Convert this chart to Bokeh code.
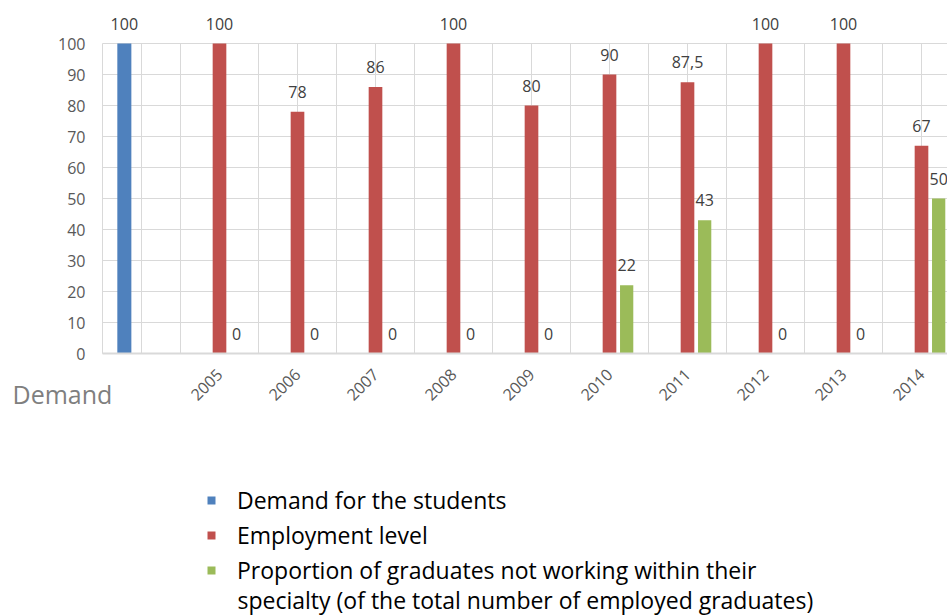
import math
from bokeh.plotting import figure
from bokeh.models import (ColumnDataSource, Range1d, FixedTicker, LabelSet, Label,
                          Legend, LegendItem, Grid)
from bokeh.core.properties import value
from bokeh.embed import file_html
from bokeh.resources import INLINE

# ---------------- data ----------------
years = ["2005", "2006", "2007", "2008", "2009", "2010", "2011", "2012", "2013", "2014"]
employment = [100, 78, 86, 100, 80, 90, 87.5, 100, 100, 67]
not_in_specialty = [0, 0, 0, 0, 0, 22, 43, 0, 0, 50]
demand = [100]
y_ticks = [0, 10, 20, 30, 40, 50, 60, 70, 80, 90, 100]
legend_labels = ["Demand for the students", "Employment level",
                 "Proportion of graduates not working within their",
                 "specialty (of the total number of employed graduates)"]

# ---------------- layout helpers ----------------
FONT = "Open Sans"
BLUE, RED, GREEN = "#4f81bd", "#c0504d", "#9bbb59"
first_slot, slot_step, green_shift, demand_pos = 3, 2, 0.44, 0.56
red_x = [first_slot + slot_step * i for i in range(len(years))]
green_x = [x + green_shift for x in red_x]


def fmt(v):
    return f"{v:g}".replace(".", ",")


src_blue = ColumnDataSource(dict(x=[demand_pos], top=demand, txt=[fmt(v) for v in demand]))
src_red = ColumnDataSource(dict(x=red_x, top=employment, txt=[fmt(v) for v in employment]))
src_green = ColumnDataSource(dict(x=green_x, top=not_in_specialty, txt=[fmt(v) for v in not_in_specialty]))

W, H = 947, 616
x0_px, y0_px = 102, 353          # pixel position of the data origin
px_x, px_y = 39.0, 3.1           # pixels per data unit
x_start, x_end = -x0_px / px_x, (W - x0_px) / px_x
y_start, y_end = -(H - y0_px) / px_y, y0_px / px_y

p = figure(width=W, height=H, x_range=Range1d(x_start, x_end), y_range=Range1d(y_start, y_end),
           min_border=0, output_backend="svg", toolbar_location=None)
p.outline_line_color = None
p.background_fill_color = "white"
p.border_fill_color = "white"

# grids
p.xgrid.ticker = FixedTicker(ticks=list(range(0, int(x_end) + 1)))
p.ygrid.ticker = FixedTicker(ticks=y_ticks)
for g in (p.xgrid, p.ygrid):
    g.grid_line_color = "#d9d9d9"
    g.grid_line_width = 1
if "cross_bounds" in Grid.properties():
    p.xgrid.cross_bounds = (0, y_ticks[-1])
    p.ygrid.cross_bounds = (0, x_end)
else:
    p.xgrid.visible = False
    p.ygrid.visible = False
    gx = list(range(0, int(x_end) + 1))
    p.segment(x0=gx, y0=[0] * len(gx), x1=gx, y1=[y_ticks[-1]] * len(gx), line_color="#d9d9d9", line_width=1)
    p.segment(x0=[0] * len(y_ticks), y0=y_ticks, x1=[x_end] * len(y_ticks), y1=y_ticks,
              line_color="#d9d9d9", line_width=1)

# y axis (drawn at x = 0 inside the frame)
p.yaxis.fixed_location = 0
p.yaxis.ticker = FixedTicker(ticks=y_ticks)
p.yaxis.bounds = (0, y_ticks[-1])
p.yaxis.axis_line_color = None
p.yaxis.major_tick_line_color = None
p.yaxis.minor_tick_line_color = None
p.yaxis.major_tick_out = 0
p.yaxis.major_label_standoff = 17
p.yaxis.major_label_text_font = FONT
p.yaxis.major_label_text_font_size = "16px"
p.yaxis.major_label_text_color = "#595959"

# x axis (drawn at y = 0 inside the frame)
p.xaxis.fixed_location = 0
p.xaxis.bounds = (0, x_end)
p.xaxis.ticker = FixedTicker(ticks=red_x)
p.xaxis.major_label_overrides = {x: y for x, y in zip(red_x, years)}
p.xaxis.major_label_orientation = math.pi / 4
p.xaxis.axis_line_color = "#d9d9d9"
p.xaxis.axis_line_width = 2
p.xaxis.major_tick_line_color = None
p.xaxis.minor_tick_line_color = None
p.xaxis.major_tick_out = 0
p.xaxis.major_label_standoff = 18
p.xaxis.major_label_text_font = FONT
p.xaxis.major_label_text_font_size = "16px"
p.xaxis.major_label_text_color = "#595959"

# bars
rb = p.vbar(x="x", top="top", bottom=0, width=0.36, source=src_blue, fill_color=BLUE, line_color=None)
rr = p.vbar(x="x", top="top", bottom=0, width=0.35, source=src_red, fill_color=RED, line_color=None)
rg = p.vbar(x="x", top="top", bottom=0, width=0.34, source=src_green, fill_color=GREEN, line_color=None)

# data labels
for s in (src_blue, src_red, src_green):
    p.add_layout(LabelSet(x="x", y="top", text="txt", source=s, y_offset=20,
                          text_align="center", text_baseline="middle",
                          text_font=value(FONT), text_font_size=value("16px"), text_color="#404040"))

# "Demand" category caption
p.add_layout(Label(x=12, y=223, x_units="screen", y_units="screen", text="Demand",
                   text_font=FONT, text_font_size="25px", text_color="#7f7f7f",
                   text_baseline="alphabetic", text_align="left"))

# legend
legend = Legend(items=[LegendItem(label=legend_labels[0], renderers=[rb]),
                       LegendItem(label=legend_labels[1], renderers=[rr]),
                       LegendItem(label=legend_labels[2], renderers=[rg])],
                location=(206, 30), orientation="vertical",
                glyph_width=10, glyph_height=10, label_standoff=21,
                label_height=31, spacing=3, padding=0, margin=0,
                border_line_color=None, background_fill_alpha=0,
                label_text_font=FONT, label_text_font_size="23px", label_text_color="#000000")
p.add_layout(legend)
p.add_layout(Label(x=237, y=17, x_units="screen", y_units="screen", text=legend_labels[3],
                   text_font=FONT, text_font_size="23px", text_color="#000000",
                   text_baseline="alphabetic", text_align="left"))

open("out.html", "w").write(file_html(p, INLINE))
